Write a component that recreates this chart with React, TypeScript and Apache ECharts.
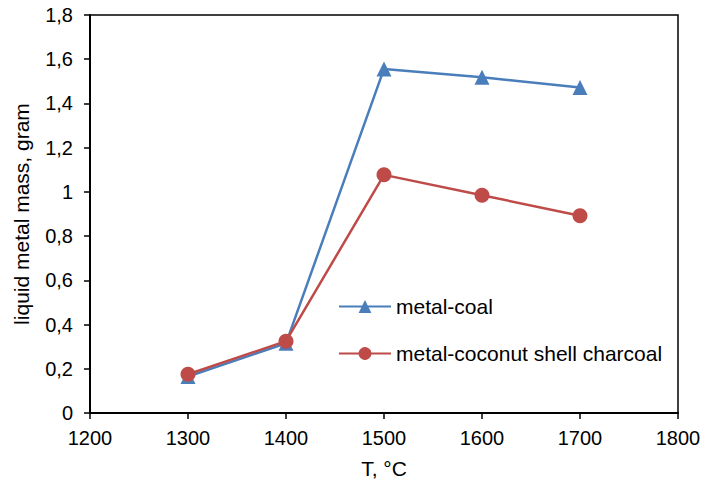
import React, { useEffect, useRef } from "react";
import * as echarts from "echarts";

const temperatures = [1300, 1400, 1500, 1600, 1700];
const metalCoal = [0.165, 0.315, 1.556, 1.518, 1.472];
const metalCoconut = [0.175, 0.325, 1.077, 0.985, 0.892];
const seriesNames = ["metal-coal", "metal-coconut shell charcoal"];

const FONT = "Liberation Sans, Arial, sans-serif";
const FS_TICK = 20;
const FS_TEXT = 21;

export default function App() {
  const ref = useRef<HTMLDivElement>(null);
  useEffect(() => {
    if (!ref.current) return;
    const chart = echarts.init(ref.current, null, { renderer: "svg" });
    chart.setOption({
      animation: false,
      backgroundColor: "#fff",
      textStyle: { fontFamily: FONT },
      grid: {
        left: 90,
        top: 15,
        right: 27,
        bottom: 68,
        show: true,
        borderColor: "#000",
        borderWidth: 1.5,
        containLabel: false,
        outerBoundsMode: "none",
      },
      legend: {
        orient: "vertical",
        left: 333,
        top: 291,
        itemWidth: 52,
        itemHeight: 16,
        itemGap: 26,
        textStyle: { fontSize: FS_TEXT, color: "#000", fontFamily: FONT },
        data: [seriesNames[0], seriesNames[1]],
      },
      xAxis: {
        type: "value",
        min: 1200,
        max: 1800,
        interval: 100,
        name: "T, °C",
        nameLocation: "middle",
        nameGap: 45,
        nameTextStyle: { fontSize: FS_TEXT, color: "#000", fontFamily: FONT },
        axisLine: { show: true, lineStyle: { color: "#000", width: 2 } },
        axisTick: { show: true, length: 6, lineStyle: { color: "#000", width: 1.5 } },
        axisLabel: {
          fontSize: FS_TICK,
          color: "#000",
          margin: 15,
          fontFamily: FONT,
          formatter: (v: number) => String(Math.round(v)),
        },
        splitLine: { show: false },
      },
      yAxis: {
        type: "value",
        min: 0,
        max: 1.8,
        interval: 0.2,
        name: "liquid metal mass, gram",
        nameLocation: "middle",
        nameGap: 58,
        nameTextStyle: { fontSize: FS_TEXT, color: "#000", fontFamily: FONT },
        axisLine: { show: true, lineStyle: { color: "#000", width: 2 } },
        axisTick: { show: true, length: 6, lineStyle: { color: "#000", width: 1.5 } },
        axisLabel: {
          fontSize: FS_TICK,
          color: "#000",
          margin: 17,
          fontFamily: FONT,
          formatter: (v: number) => (Math.round(v * 10) / 10).toString().replace(".", ","),
        },
        splitLine: { show: false },
      },
      series: [
        {
          name: seriesNames[0],
          type: "line",
          data: temperatures.map((t, i) => [t, metalCoal[i]]),
          symbol: "triangle",
          symbolSize: 15,
          color: "#4A7EBB",
          lineStyle: { width: 2.5, color: "#4A7EBB" },
          itemStyle: { color: "#4A7EBB" },
        },
        {
          name: seriesNames[1],
          type: "line",
          data: temperatures.map((t, i) => [t, metalCoconut[i]]),
          symbol: "circle",
          symbolSize: 15,
          color: "#BE4B48",
          lineStyle: { width: 2.5, color: "#BE4B48" },
          itemStyle: { color: "#BE4B48" },
        },
      ],
    });
    return () => chart.dispose();
  }, []);
  return (
    <div
      ref={ref}
      style={{ position: "absolute", left: 0, top: 0, width: 705, height: 481 }}
    />
  );
}
